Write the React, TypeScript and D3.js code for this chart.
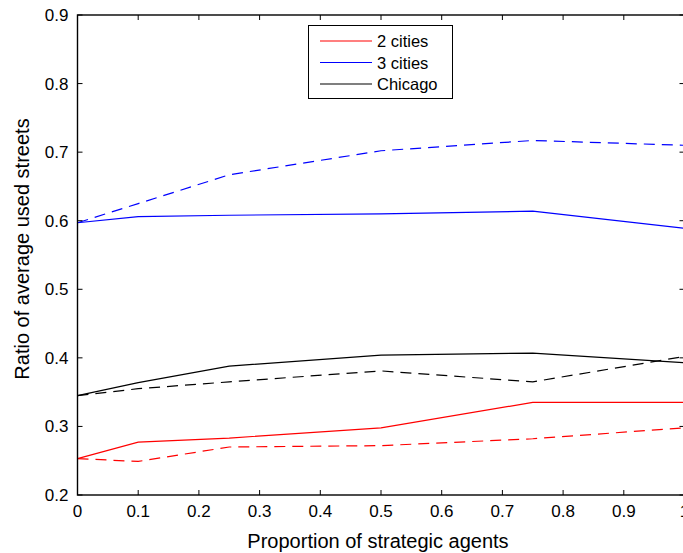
import React from "react";
import * as d3 from "d3";

const xValues = [0, 0.1, 0.25, 0.5, 0.75, 1.0];
const red2Solid = [0.253, 0.277, 0.283, 0.298, 0.335, 0.335];
const red2Dashed = [0.253, 0.249, 0.27, 0.272, 0.282, 0.298];
const blue3Solid = [0.597, 0.606, 0.608, 0.61, 0.614, 0.589];
const blue3Dashed = [0.597, 0.625, 0.667, 0.702, 0.717, 0.71];
const chicagoSolid = [0.345, 0.364, 0.388, 0.404, 0.407, 0.393];
const chicagoDashed = [0.345, 0.355, 0.365, 0.381, 0.365, 0.402];
const xTicks = [0, 0.1, 0.2, 0.3, 0.4, 0.5, 0.6, 0.7, 0.8, 0.9, 1];
const yTicks = [0.2, 0.3, 0.4, 0.5, 0.6, 0.7, 0.8, 0.9];
const legendItems = [
  { label: "2 cities", color: "#ff0000" },
  { label: "3 cities", color: "#0000ff" },
  { label: "Chicago", color: "#000000" },
];

const W = 683;
const H = 553;
const L = 77.5;
const R = 684.5;
const T = 15;
const B = 495;

export default function App() {
  const x = d3.scaleLinear().domain([0, 1]).range([L, R]);
  const y = d3.scaleLinear().domain([0.2, 0.9]).range([B, T]);
  const line = d3
    .line<number>()
    .x((_, i) => x(xValues[i]))
    .y((d) => y(d));

  const series = [
    { data: red2Solid, color: "#ff0000", dash: undefined },
    { data: red2Dashed, color: "#ff0000", dash: "11,7" },
    { data: blue3Solid, color: "#0000ff", dash: undefined },
    { data: blue3Dashed, color: "#0000ff", dash: "11,7" },
    { data: chicagoSolid, color: "#000000", dash: undefined },
    { data: chicagoDashed, color: "#000000", dash: "11,7" },
  ];
  const font = "Liberation Sans, Arial, Helvetica, sans-serif";
  const tickLen = 5;

  return (
    <svg
      width={W}
      height={H}
      style={{ position: "absolute", left: 0, top: 0, background: "#fff" }}
      fontFamily={font}
    >
      <rect x={0} y={0} width={W} height={H} fill="#fff" />
      {series.map((s, i) => (
        <path
          key={i}
          d={line(s.data) || ""}
          fill="none"
          stroke={s.color}
          strokeWidth={1.2}
          strokeDasharray={s.dash}
        />
      ))}
      <rect x={L} y={T} width={R - L} height={B - T} fill="none" stroke="#000" strokeWidth={1.4} />
      {xTicks.map((t) => (
        <g key={"x" + t}>
          <line x1={x(t)} x2={x(t)} y1={B} y2={B - tickLen} stroke="#000" strokeWidth={1} />
          <line x1={x(t)} x2={x(t)} y1={T} y2={T + tickLen} stroke="#000" strokeWidth={1} />
          <text x={x(t)} y={B + 22} fontSize={17} textAnchor="middle" fill="#000">
            {String(t)}
          </text>
        </g>
      ))}
      {yTicks.map((t) => (
        <g key={"y" + t}>
          <line x1={L} x2={L + tickLen} y1={y(t)} y2={y(t)} stroke="#000" strokeWidth={1} />
          <line x1={R} x2={R - tickLen} y1={y(t)} y2={y(t)} stroke="#000" strokeWidth={1} />
          <text x={L - 9} y={y(t) + 6} fontSize={17} textAnchor="end" fill="#000">
            {t.toFixed(1)}
          </text>
        </g>
      ))}
      <text x={(L + R) / 2 - 3} y={548} fontSize={20} textAnchor="middle" fill="#000">
        Proportion of strategic agents
      </text>
      <text
        transform={`translate(29,${249}) rotate(-90)`}
        fontSize={20}
        textAnchor="middle"
        fill="#000"
      >
        Ratio of average used streets
      </text>
      <rect x={308.5} y={25.5} width={144} height={73} fill="#fff" stroke="#000" strokeWidth={1} />
      {legendItems.map((it, i) => (
        <g key={it.label}>
          <line x1={320} x2={372} y1={41 + i * 21.5} y2={41 + i * 21.5} stroke={it.color} strokeWidth={1.2} />
          <text x={377} y={41 + i * 21.5 + 6} fontSize={16.5} fill="#000">
            {it.label}
          </text>
        </g>
      ))}
    </svg>
  );
}
